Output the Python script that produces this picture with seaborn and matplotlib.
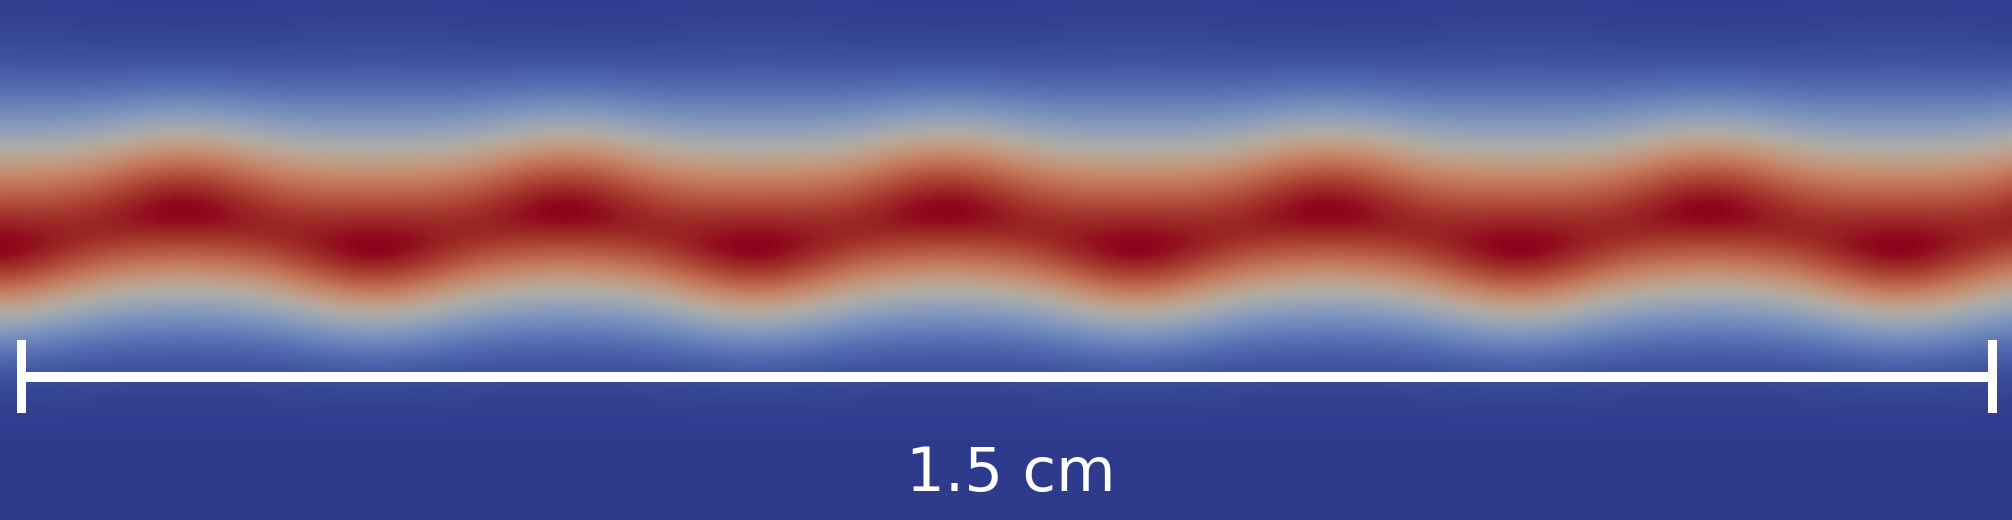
import numpy as np
import pandas as pd
import matplotlib
matplotlib.use("Agg")
import matplotlib.pyplot as plt
import seaborn as sns
from matplotlib.colors import ListedColormap
from matplotlib.patches import Rectangle

# ridge positions (px): crests = band high, troughs = band low
crest_x = [183, 565, 946, 1327, 1709, 2090]
trough_x = [-7, 374, 755, 1136, 1518, 1899]
# centre line height and distance to the mid (grey) level above / below it
crest_center, trough_center = 211, 247
crest_half_up, crest_half_down = 78, 80
trough_half_up, trough_half_down = 97, 67
# peak level on the ridge line: at crests/troughs and half way between
ridge_peak, saddle_peak = 1.0, 0.955

scale_label = "1.5 cm"

W, H = 2012, 520
step = 2


def ease(x, kx, ky):
    kx = np.asarray(kx, float)
    ky = np.asarray(ky, float)
    i = np.clip(np.searchsorted(kx, x) - 1, 0, len(kx) - 2)
    t = np.clip((x - kx[i]) / (kx[i + 1] - kx[i]), 0, 1)
    s = (1 - np.cos(np.pi * t)) / 2
    return ky[i] + (ky[i + 1] - ky[i]) * s


knots = sorted([(x, "c") for x in crest_x] + [(x, "t") for x in trough_x])
kx = [k[0] for k in knots]
center = [crest_center if k[1] == "c" else trough_center for k in knots]
half_up = [crest_half_up if k[1] == "c" else trough_half_up for k in knots]
half_down = [crest_half_down if k[1] == "c" else trough_half_down for k in knots]
px = []
pv = []
for a, b in zip(kx[:-1], kx[1:]):
    px += [a, (a + b) / 2]
    pv += [ridge_peak, saddle_peak]
px.append(kx[-1])
pv.append(ridge_peak)

xs = (np.arange(W // step) + 0.5) * step
ys = (np.arange(H // step) + 0.5) * step
c = ease(xs, kx, center)
hu = ease(xs, kx, half_up)
hd = ease(xs, kx, half_down)
pk = ease(xs, px, pv)

dy = ys[:, None] - c[None, :]
u = np.where(dy < 0, dy / hu[None, :], dy / hd[None, :])
field = pk[None, :] * np.exp(-np.log(2) * u ** 2)
df = pd.DataFrame(field)

# cool-to-warm with the dimming of the rendered surface
base = plt.get_cmap("coolwarm")(np.linspace(0, 1, 256))
base[:, :3] *= np.array([0.79, 0.77, 0.735])
cmap = ListedColormap(base)

fig = plt.figure(figsize=(W / 100, H / 100), dpi=100)
ax = fig.add_axes([0, 0, 1, 1])
sns.heatmap(df, ax=ax, cmap=cmap, vmin=0, vmax=1, cbar=False,
            xticklabels=False, yticklabels=False)
ax.axis("off")

ov = fig.add_axes([0, 0, 1, 1])
ov.set_xlim(0, W)
ov.set_ylim(H, 0)
ov.axis("off")
ov.patch.set_alpha(0)
ov.add_patch(Rectangle((22, 372), 1970, 10, color="white", lw=0))
ov.add_patch(Rectangle((17, 340), 9, 73, color="white", lw=0))
ov.add_patch(Rectangle((1988, 340), 9, 73, color="white", lw=0))
ov.text(1011, 491, scale_label, color="white", fontsize=44,
        ha="center", va="baseline", family="DejaVu Sans")

fig.savefig("out.png", dpi=100)
